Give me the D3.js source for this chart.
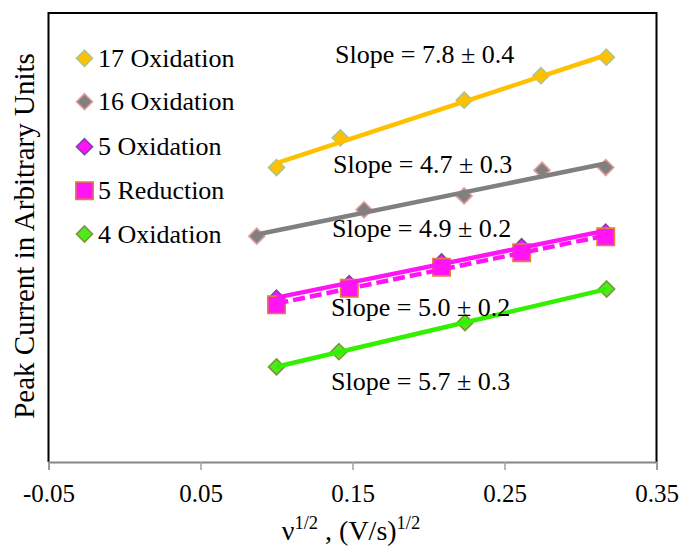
<!DOCTYPE html>
<html>
<head>
<meta charset="utf-8">
<script src="https://cdn.jsdelivr.net/npm/d3@7"></script>
<style>
  html, body { margin: 0; padding: 0; background: #fff; }
  svg { display: block; }
  text { font-family: "Liberation Serif", "Times New Roman", serif; fill: #000; }
</style>
</head>
<body>
<svg id="chart" width="683" height="546"></svg>
<script>
// ---- data ----
const seriesNames = ["17 Oxidation", "16 Oxidation", "5 Oxidation", "5 Reduction", "4 Oxidation"];
const x17 = [0.100, 0.142, 0.2235, 0.274, 0.317];
const y17 = [4.46, 4.91, 5.48, 5.85, 6.13];
const x16 = [0.087, 0.1576, 0.2234, 0.2747, 0.3166];
const y16 = [3.42, 3.82, 4.03, 4.42, 4.46];
const x5ox = [0.100, 0.1479, 0.2086, 0.2613, 0.3166];
const y5ox = [2.48, 2.70, 3.03, 3.26, 3.48];
const x5red = [0.100, 0.1479, 0.2086, 0.2613, 0.3166];
const y5red = [2.38, 2.63, 2.95, 3.17, 3.41];
const x4 = [0.100, 0.1411, 0.224, 0.3172];
const y4 = [1.44, 1.67, 2.11, 2.62];
const xTicks = [-0.05, 0.05, 0.15, 0.25, 0.35];
const xTickLabels = ["-0.05", "0.05", "0.15", "0.25", "0.35"];
const slopeLabels = ["Slope = 7.8 \u00B1 0.4", "Slope = 4.7 \u00B1 0.3", "Slope = 4.9 \u00B1 0.2", "Slope = 5.0 \u00B1 0.2", "Slope = 5.7 \u00B1 0.3"];

// ---- layout ----
const svg = d3.select("#chart");
const pLeft = 48.5, pRight = 656.5, pTop = 13, pBottom = 462;
const x = d3.scaleLinear().domain([-0.05, 0.35]).range([pLeft, pRight]);
const y = d3.scaleLinear().domain([0, 6.8]).range([pBottom, pTop]);
const slopePos = [[335, 63], [333, 173], [332, 237], [331, 316], [331, 390]];
const legY = [58.3, 101.7, 146.7, 190.7, 234];

const styles = [
  {line: "#FFC000", fill: "#FFC000", stroke: "#A9C48E", shape: "diamond", dash: null},
  {line: "#808080", fill: "#808080", stroke: "#E39C9C", shape: "diamond", dash: null},
  {line: "#FF14F5", fill: "#FF14F5", stroke: "#7C3FA8", shape: "diamond", dash: null},
  {line: "#FF14F5", fill: "#FF14F5", stroke: "#E0803A", shape: "square", dash: "12,5"},
  {line: "#33F000", fill: "#4BEB1E", stroke: "#7F9438", shape: "diamond", dash: null}
];
const data = [
  d3.zip(x17, y17), d3.zip(x16, y16), d3.zip(x5ox, y5ox), d3.zip(x5red, y5red), d3.zip(x4, y4)
];

// linear least-squares trend line through a series
function fit(pts) {
  const mx = d3.mean(pts, d => d[0]), my = d3.mean(pts, d => d[1]);
  const sxy = d3.sum(pts, d => (d[0] - mx) * (d[1] - my));
  const sxx = d3.sum(pts, d => (d[0] - mx) ** 2);
  const b = sxy / sxx, a = my - b * mx;
  const [x0, x1] = d3.extent(pts, d => d[0]);
  return [[x0, a + b * x0], [x1, a + b * x1]];
}

// frame
svg.append("line").attr("x1", pLeft).attr("x2", pRight).attr("y1", pTop).attr("y2", pTop)
  .attr("stroke", "#000").attr("stroke-width", 2);
svg.append("line").attr("x1", pLeft).attr("x2", pLeft).attr("y1", pTop - 1).attr("y2", pBottom)
  .attr("stroke", "#000").attr("stroke-width", 2);
svg.append("line").attr("x1", pRight).attr("x2", pRight).attr("y1", pTop - 1).attr("y2", pBottom)
  .attr("stroke", "#000").attr("stroke-width", 2);

// x axis
const xAxis = d3.axisBottom(x).tickValues(xTicks).tickSize(8).tickPadding(10)
  .tickFormat((d, i) => xTickLabels[i]);
const gx = svg.append("g").attr("transform", `translate(0,${pBottom})`).call(xAxis);
gx.select(".domain").attr("stroke", "#868686").attr("stroke-width", 2);
gx.selectAll(".tick line").attr("stroke", "#A0A0A0").attr("stroke-width", 1.5);
gx.selectAll(".tick text").attr("font-family", '"Liberation Serif", "Times New Roman", serif')
  .attr("font-size", 25).attr("fill", "#000").attr("dy", null).attr("y", 39.5);

// axis titles
const xt = svg.append("text").attr("x", 351).attr("y", 540).attr("text-anchor", "middle").attr("font-size", 28);
xt.append("tspan").text("\u03BD");
xt.append("tspan").attr("font-size", 18.5).attr("dy", -11).text("1/2");
xt.append("tspan").attr("dy", 11).text(" , (V/s)");
xt.append("tspan").attr("font-size", 18.5).attr("dy", -11).text("1/2");

svg.append("text").attr("transform", "translate(34,236) rotate(-90)")
  .attr("text-anchor", "middle").attr("font-size", 29)
  .text("Peak Current in Arbitrary Units");

// shapes
function markerPath(shape, cx, cy) {
  if (shape === "diamond") {
    const r = 8;
    return `M${cx},${cy - r}L${cx + r},${cy}L${cx},${cy + r}L${cx - r},${cy}Z`;
  }
  const h = 8.7;
  return `M${cx - h},${cy - h}H${cx + h}V${cy + h}H${cx - h}Z`;
}

const lineGen = d3.line().x(d => x(d[0])).y(d => y(d[1]));
data.forEach((pts, i) => {
  const s = styles[i];
  const g = svg.append("g");
  g.selectAll("path.m").data(pts).join("path").attr("class", "m")
    .attr("d", d => markerPath(s.shape, x(d[0]), y(d[1])))
    .attr("fill", s.fill).attr("stroke", s.stroke).attr("stroke-width", 1.6);
});
data.forEach((pts, i) => {
  const s = styles[i];
  svg.append("path").attr("d", lineGen(fit(pts))).attr("fill", "none")
    .attr("stroke", s.line).attr("stroke-width", 4.5)
    .attr("stroke-dasharray", s.dash);
});

// slope labels
slopeLabels.forEach((t, i) => {
  svg.append("text").attr("x", slopePos[i][0]).attr("y", slopePos[i][1])
    .attr("font-size", 26).text(t);
});

// legend
seriesNames.forEach((n, i) => {
  const s = styles[i];
  svg.append("path").attr("d", markerPath(s.shape, 84.5, legY[i]))
    .attr("fill", s.fill).attr("stroke", s.stroke).attr("stroke-width", 1.6);
  svg.append("text").attr("x", 98).attr("y", legY[i] + 8.5).attr("font-size", 26).text(n);
});
</script>
</body>
</html>
